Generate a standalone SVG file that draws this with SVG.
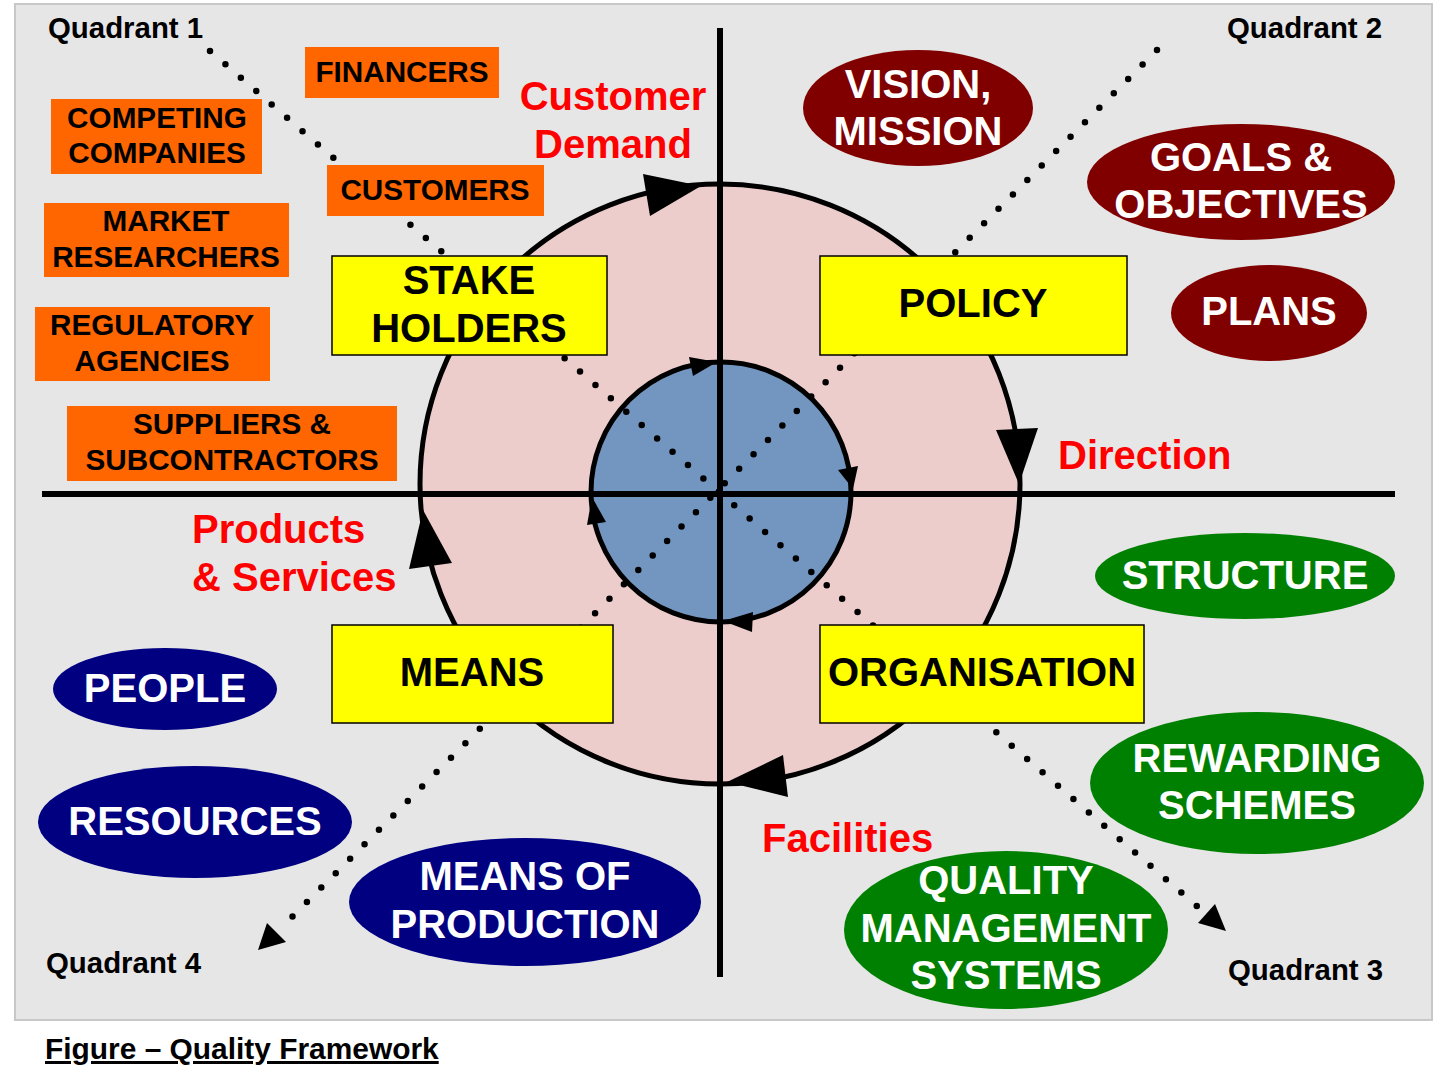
<svg xmlns="http://www.w3.org/2000/svg" width="1437" height="1071" viewBox="0 0 1437 1071">
<style>
text{font-family:"Liberation Sans",Arial,sans-serif;font-weight:bold}
.org{fill:#ff6600}
.ot{font-size:29.7px;fill:#000;text-anchor:middle}
.yel{fill:#ffff00;stroke:#000;stroke-width:1.5}
.yt{font-size:40px;fill:#000;text-anchor:middle}
.red{fill:#800000}
.grn{fill:#008000}
.nav{fill:#000080}
.et{font-size:40px;fill:#fff;text-anchor:middle}
.rt{font-size:40px;fill:#ff0000}
.qt{font-size:29.4px;fill:#000}
.axis{stroke:#000;stroke-width:6;fill:none}
.dot{stroke:#000;stroke-width:6.5;stroke-linecap:round;stroke-dasharray:0 20.4;fill:none}
.ah{fill:#000}
</style>
<rect x="15" y="4" width="1417" height="1016" fill="#e6e6e6" stroke="#c8c8c8" stroke-width="2"/>
<g id="outer-circle">
<circle cx="720" cy="484" r="300" fill="#eccdcb" stroke="#000" stroke-width="5"/>
<polygon class="ah" points="701,186 643,174 650,216"/>
<polygon class="ah" points="1019,484 996,430 1038,428"/>
<polygon class="ah" points="727,782 783,755 788,797"/>
<polygon class="ah" points="423,510 409,569 452,563"/>
</g>
<g id="inner-circle">
<circle cx="721" cy="492" r="130" fill="#7296c0" stroke="#000" stroke-width="5"/>
<polygon class="ah" points="717,362 689,357 693,376"/>
<polygon class="ah" points="853,489 838,470 858,466"/>
<polygon class="ah" points="723,621 753,612 752,632"/>
<polygon class="ah" points="592,497 587,525 606,522"/>
</g>
<g id="axes">
<line class="axis" x1="720" y1="28" x2="720" y2="977"/>
<line class="axis" x1="42" y1="494" x2="1395" y2="494"/>
</g>
<g id="connectors">
<path class="dot" d="M210,51 L1198,907"/>
<polygon class="ah" points="1226,931 1198,923 1215,904"/>
<path class="dot" d="M1157,50 L290,919"/>
<polygon class="ah" points="258,950 267,923 286,942"/>
</g>
<g id="stakeholders"><rect class="yel" x="332" y="256" width="275" height="99"/><text class="yt" x="469" y="294">STAKE</text><text class="yt" x="469" y="342">HOLDERS</text></g>
<g id="policy"><rect class="yel" x="820" y="256" width="307" height="99"/><text class="yt" x="973" y="317">POLICY</text></g>
<g id="means"><rect class="yel" x="332" y="625" width="281" height="98"/><text class="yt" x="472" y="686">MEANS</text></g>
<g id="organisation"><rect class="yel" x="820" y="625" width="324" height="98"/><text class="yt" x="982" y="686">ORGANISATION</text></g>
<g id="financers"><rect class="org" x="305" y="47" width="194" height="51"/><text class="ot" x="402" y="82">FINANCERS</text></g>
<g id="competing"><rect class="org" x="51" y="99" width="211" height="75"/><text class="ot" x="157" y="128">COMPETING</text><text class="ot" x="157" y="163">COMPANIES</text></g>
<g id="customers"><rect class="org" x="327" y="165" width="217" height="51"/><text class="ot" x="435" y="200">CUSTOMERS</text></g>
<g id="market"><rect class="org" x="44" y="203" width="245" height="74"/><text class="ot" x="166" y="231">MARKET</text><text class="ot" x="166" y="267">RESEARCHERS</text></g>
<g id="regulatory"><rect class="org" x="35" y="307" width="235" height="74"/><text class="ot" x="152" y="335">REGULATORY</text><text class="ot" x="152" y="371">AGENCIES</text></g>
<g id="suppliers"><rect class="org" x="67" y="406" width="330" height="75"/><text class="ot" x="232" y="434">SUPPLIERS &amp;</text><text class="ot" x="232" y="470">SUBCONTRACTORS</text></g>
<g id="vision"><ellipse class="red" cx="918" cy="108" rx="115" ry="58"/><text class="et" x="918" y="98">VISION,</text><text class="et" x="918" y="145">MISSION</text></g>
<g id="goals"><ellipse class="red" cx="1241" cy="182" rx="154" ry="58"/><text class="et" x="1241" y="171">GOALS &amp;</text><text class="et" x="1241" y="218">OBJECTIVES</text></g>
<g id="plans"><ellipse class="red" cx="1269" cy="313" rx="98" ry="48"/><text class="et" x="1269" y="325">PLANS</text></g>
<g id="structure"><ellipse class="grn" cx="1245" cy="576" rx="150" ry="43"/><text class="et" x="1245" y="589">STRUCTURE</text></g>
<g id="rewarding"><ellipse class="grn" cx="1257" cy="783" rx="167" ry="71"/><text class="et" x="1257" y="772">REWARDING</text><text class="et" x="1257" y="819">SCHEMES</text></g>
<g id="qms"><ellipse class="grn" cx="1006" cy="930" rx="162" ry="79"/><text class="et" x="1006" y="894">QUALITY</text><text class="et" x="1006" y="942">MANAGEMENT</text><text class="et" x="1006" y="989">SYSTEMS</text></g>
<g id="people"><ellipse class="nav" cx="165" cy="689" rx="112" ry="41"/><text class="et" x="165" y="702">PEOPLE</text></g>
<g id="resources"><ellipse class="nav" cx="195" cy="822" rx="157" ry="56"/><text class="et" x="195" y="835">RESOURCES</text></g>
<g id="means-of-production"><ellipse class="nav" cx="525" cy="902" rx="176" ry="64"/><text class="et" x="525" y="890">MEANS OF</text><text class="et" x="525" y="938">PRODUCTION</text></g>
<g id="labels">
<text class="rt" x="613" y="110" text-anchor="middle">Customer</text>
<text class="rt" x="613" y="158" text-anchor="middle">Demand</text>
<text class="rt" x="1058" y="469">Direction</text>
<text class="rt" x="192" y="543">Products</text>
<text class="rt" x="192" y="591">&amp; Services</text>
<text class="rt" x="762" y="852">Facilities</text>
<text class="qt" x="48" y="38">Quadrant 1</text>
<text class="qt" x="1227" y="38">Quadrant 2</text>
<text class="qt" x="1228" y="980">Quadrant 3</text>
<text class="qt" x="46" y="973">Quadrant 4</text>
<text x="45" y="1059" font-size="29.9" fill="#000" text-decoration="underline">Figure – Quality Framework</text>
</g>
</svg>
